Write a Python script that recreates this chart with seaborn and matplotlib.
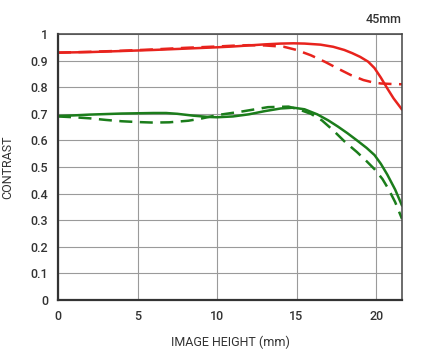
import numpy as np
import pandas as pd
import matplotlib
matplotlib.use("Agg")
import matplotlib.pyplot as plt
import seaborn as sns

# values (image height in mm, contrast)
red_solid_x = [0, 2, 4, 6, 8, 10, 11, 12, 13, 14, 14.8, 15.5, 16.5, 17.3, 18.0, 18.5, 19.0, 19.5, 19.9, 20.3, 20.7, 21.1, 21.63]
red_solid_y = [0.930, 0.932, 0.936, 0.940, 0.945, 0.950, 0.953, 0.957, 0.961, 0.964, 0.965, 0.964, 0.960, 0.952, 0.940, 0.928, 0.914, 0.896, 0.872, 0.836, 0.796, 0.758, 0.716]

red_dash_x = [0, 2, 4, 6, 8, 10, 11, 12, 13, 14.2, 15.0, 15.9, 16.8, 17.6, 18.4, 19.2, 19.8, 20.3, 21.0, 21.63]
red_dash_y = [0.930, 0.933, 0.937, 0.942, 0.948, 0.953, 0.956, 0.958, 0.957, 0.952, 0.940, 0.920, 0.895, 0.870, 0.846, 0.827, 0.818, 0.814, 0.812, 0.811]

green_solid_x = [0, 1, 2, 3, 4, 5, 6, 6.8, 7.5, 8.5, 9.5, 10.0, 11.0, 12.0, 13.0, 14.0, 14.8, 15.5, 16.3, 17.0, 17.6, 18.2, 18.8, 19.4, 19.9, 20.3, 20.7, 21.2, 21.63]
green_solid_y = [0.692, 0.694, 0.697, 0.699, 0.701, 0.702, 0.703, 0.703, 0.700, 0.693, 0.688, 0.687, 0.690, 0.698, 0.710, 0.720, 0.723, 0.717, 0.698, 0.675, 0.652, 0.627, 0.600, 0.572, 0.545, 0.512, 0.472, 0.415, 0.355]

green_dash_x = [0, 1, 2, 3, 4, 5, 6, 7, 8.2, 9.0, 10.0, 11.5, 13.2, 14.5, 15.2, 15.9, 16.6, 17.3, 18.0, 18.8, 19.4, 19.9, 20.4, 20.8, 21.2, 21.63]
green_dash_y = [0.690, 0.687, 0.683, 0.677, 0.672, 0.669, 0.667, 0.668, 0.674, 0.682, 0.695, 0.708, 0.725, 0.727, 0.715, 0.700, 0.675, 0.638, 0.597, 0.556, 0.522, 0.492, 0.455, 0.415, 0.368, 0.305]

x_ticks = [0, 5, 10, 15, 20]
y_ticks = [0, 0.1, 0.2, 0.3, 0.4, 0.5, 0.6, 0.7, 0.8, 0.9, 1]
y_tick_labels = ["0", "0.1", "0.2", "0.3", "0.4", "0.5", "0.6", "0.7", "0.8", "0.9", "1"]

RED = "#e8231d"
GREEN = "#1b7d1b"

sns.set_theme(style="white")
plt.rcParams["font.family"] = ["Roboto", "DejaVu Sans"]
plt.rcParams["font.weight"] = "medium"

fig = plt.figure(figsize=(4.22, 3.64), dpi=100)
ax = fig.add_axes([58 / 422, 1 - 300 / 364, (402 - 58) / 422, (300 - 34) / 364])

curves = [
    (red_solid_x, red_solid_y, RED, "-"),
    (red_dash_x, red_dash_y, RED, "--"),
    (green_solid_x, green_solid_y, GREEN, "-"),
    (green_dash_x, green_dash_y, GREEN, "--"),
]
for xs, ys, color, style in curves:
    df = pd.DataFrame({"x": xs, "y": ys})
    sns.lineplot(data=df, x="x", y="y", ax=ax, color=color, linewidth=1.8,
                 linestyle=style, sort=False)
    ax.lines[-1].set_solid_joinstyle("round")
    if style == "--":
        ax.lines[-1].set_dashes((5.2, 3.0))

ax.set_xlim(0, 21.63)
ax.set_ylim(0, 1)
ax.set_xticks(x_ticks)
ax.set_xticklabels([str(t) for t in x_ticks])
ax.set_yticks(y_ticks)
ax.set_yticklabels(y_tick_labels)
ax.grid(True, color="#9a9a9a", linewidth=0.8)
ax.set_axisbelow(True)
ax.tick_params(axis="both", length=0, labelsize=9, colors="#333333", pad=7)

for side in ["left", "bottom"]:
    ax.spines[side].set_color("#333333")
    ax.spines[side].set_linewidth(1.6)
for side in ["top", "right"]:
    ax.spines[side].set_color("#444444")
    ax.spines[side].set_linewidth(1.1)

ax.set_xlabel("IMAGE HEIGHT (mm)", fontsize=9, color="#333333", labelpad=9)
ax.set_ylabel("CONTRAST", fontsize=9, color="#333333", labelpad=12)
ax.text(1.0, 1.03, "45mm", transform=ax.transAxes, ha="right", va="bottom",
        fontsize=9, color="#333333")

fig.savefig("out.png", dpi=100)
